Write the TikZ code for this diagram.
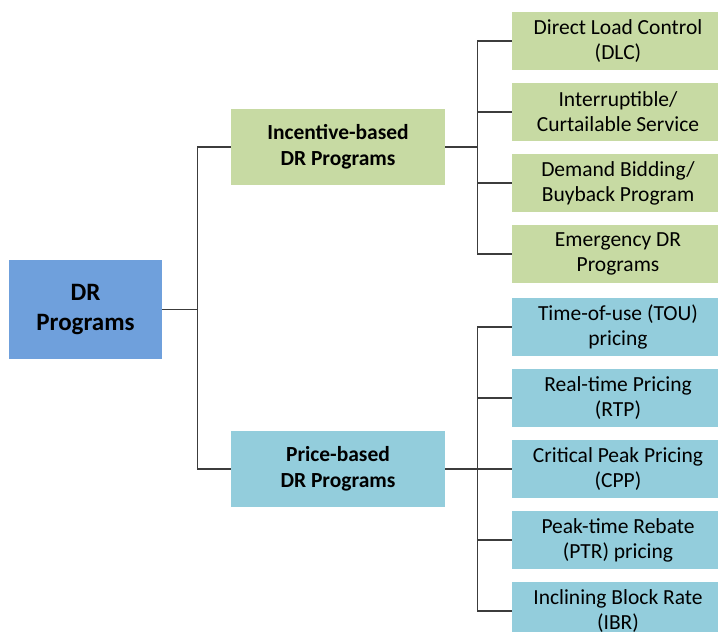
\documentclass[tikz,border=0pt]{standalone}
\usepackage{fontspec}
\setmainfont{Carlito}
\definecolor{rootblue}{RGB}{111,160,220}
\definecolor{incgreen}{RGB}{199,218,163}
\definecolor{priceaqua}{RGB}{147,205,220}
\definecolor{linkgray}{RGB}{60,60,60}
\tikzset{every picture/.style={line width=0.75pt}}
\tikzset{
  rootbox/.style={fill=rootblue, minimum width=153pt, minimum height=99pt, align=center, inner sep=0pt, font=\fontsize{25}{30}\selectfont\bfseries},
  midbox/.style={minimum width=214pt, minimum height=76pt, align=center, inner sep=0pt, font=\fontsize{21.5}{26}\selectfont\bfseries},
  leafbox/.style={minimum width=212pt, minimum height=58pt, align=center, inner sep=0pt, font=\fontsize{21.5}{25}\selectfont},
  link/.style={draw=linkgray, line width=1.4pt}
}

\begin{document}
\begin{tikzpicture}[x=1pt,y=1pt,yscale=-1,xscale=1]
        \useasboundingbox (0,0) rectangle (718,632);
        % root and second level
        \node [rootbox] (root) at (85.5,309.5) {DR\\Programs};
        \node [midbox, fill=incgreen] (inc) at (338,147) {Incentive-based\\DR Programs};
        \node [midbox, fill=priceaqua] (price) at (338,469) {Price-based\\DR Programs};
        % incentive-based leaves
        \node [leafbox, fill=incgreen] (dlc) at (618,41) {Direct Load Control\\(DLC)};
        \node [leafbox, fill=incgreen] (ics) at (618,112) {Interruptible/\\Curtailable Service};
        \node [leafbox, fill=incgreen] (dbb) at (618,183) {Demand Bidding/\\Buyback Program};
        \node [leafbox, fill=incgreen] (edr) at (618,254) {Emergency DR\\Programs};
        % price-based leaves
        \node [leafbox, fill=priceaqua] (tou) at (618,327) {Time-of-use (TOU)\\pricing};
        \node [leafbox, fill=priceaqua] (rtp) at (618,398) {Real-time Pricing\\(RTP)};
        \node [leafbox, fill=priceaqua] (cpp) at (618,469) {Critical Peak Pricing\\(CPP)};
        \node [leafbox, fill=priceaqua] (ptr) at (618,540) {Peak-time Rebate\\(PTR) pricing};
        \node [leafbox, fill=priceaqua] (ibr) at (618,611) {Inclining Block Rate\\(IBR)};
        % forks
        \coordinate (rootfork) at ([xshift=35pt]root.east);
        \coordinate (incfork) at ([xshift=32pt]inc.east);
        \coordinate (pricefork) at ([xshift=32pt]price.east);
        \draw [link] (root.east) -- (rootfork);
        \draw [link] (inc.west) -| (rootfork) |- (price.west);
        \draw [link] (inc.east) -- (incfork);
        \draw [link] (incfork |- dlc.west) -- (incfork |- edr.west);
        \foreach \leaf in {dlc,ics,dbb,edr}
            \draw [link] (incfork |- \leaf.west) -- (\leaf.west);
        \draw [link] (price.east) -- (pricefork);
        \draw [link] (pricefork |- tou.west) -- (pricefork |- ibr.west);
        \foreach \leaf in {tou,rtp,cpp,ptr,ibr}
            \draw [link] (pricefork |- \leaf.west) -- (\leaf.west);
\end{tikzpicture}
\end{document}
